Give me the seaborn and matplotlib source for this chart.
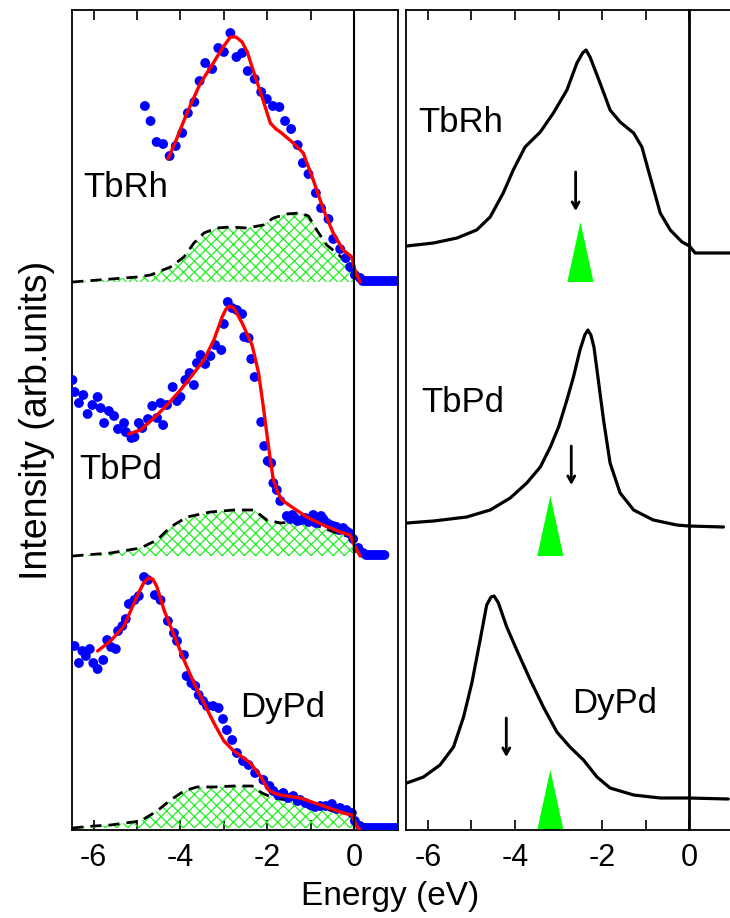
import numpy as np
import pandas as pd
import matplotlib
matplotlib.use("Agg")
from matplotlib import pyplot as plt
import seaborn as sns

# ---- data (energies in eV, intensities in arb. units above each baseline) ----
names = ["TbRh", "TbPd", "DyPd"]
offset_left = [5.48, 2.74, 0.02]
offset_right = [5.77, 3.03, 0.31]

# measured points (blue dots)
tbrh_dot_x = [-4.82, -4.69, -4.55, -4.40, -4.25, -4.11, -3.96, -3.83, -3.68, -3.56,
              -3.43, -3.27, -3.13, -3.00, -2.85, -2.71, -2.58, -2.45, -2.29, -2.14,
              -2.01, -1.87, -1.72, -1.59, -1.45, -1.30, -1.18, -1.05, -0.88, -0.76,
              -0.59, -0.48, -0.32, -0.19, -0.09, 0.02, 0.14,
              0.20, 0.26, 0.32, 0.38, 0.44, 0.50, 0.56, 0.62, 0.68, 0.74, 0.80, 0.86, 0.92, 0.98]
tbrh_dot_y = [1.76, 1.61, 1.40, 1.38, 1.26, 1.36, 1.49, 1.69, 1.80, 2.01,
              2.19, 2.13, 2.34, 2.30, 2.49, 2.25, 2.29, 2.11, 2.03, 1.90,
              1.83, 1.76, 1.75, 1.61, 1.53, 1.37, 1.19, 1.08, 0.89, 0.74,
              0.63, 0.43, 0.33, 0.24, 0.15, 0.07, 0.04,
              0.01, 0.01, 0.01, 0.01, 0.01, 0.01, 0.01, 0.01, 0.01, 0.01, 0.01, 0.01, 0.01, 0.01]

tbpd_dot_x = [-6.49, -6.44, -6.34, -6.24, -6.14, -6.03, -5.91, -5.84, -5.76, -5.65,
              -5.53, -5.44, -5.30, -5.26, -5.13, -5.06, -4.96, -4.88, -4.75, -4.65,
              -4.54, -4.46, -4.40, -4.31, -4.18, -4.08, -4.00, -3.89, -3.79, -3.69,
              -3.62, -3.54, -3.43, -3.31, -3.20, -3.06, -3.00, -2.91, -2.81, -2.70,
              -2.58, -2.53, -2.43, -2.37, -2.29, -2.14, -2.07, -1.99, -1.91, -1.86,
              -1.78, -1.70, -1.55, -1.47, -1.42, -1.36, -1.30, -1.20, -1.12, -1.05,
              -0.98, -0.94, -0.88, -0.82, -0.76, -0.71, -0.62, -0.55, -0.48, -0.40,
              -0.33, -0.25, -0.18, -0.11, -0.02, 0.10, 0.21,
              0.28, 0.34, 0.40, 0.46, 0.52, 0.58, 0.64, 0.70]
tbpd_dot_y = [1.76, 1.64, 1.53, 1.61, 1.42, 1.51, 1.59, 1.48, 1.33, 1.45,
              1.40, 1.27, 1.33, 1.24, 1.18, 1.19, 1.33, 1.28, 1.37, 1.50,
              1.38, 1.53, 1.31, 1.51, 1.69, 1.55, 1.59, 1.76, 1.83, 1.71,
              1.93, 2.01, 1.92, 2.00, 2.11, 2.06, 2.32, 2.54, 2.48, 2.46,
              2.42, 2.19, 2.18, 1.97, 1.79, 1.34, 1.10, 0.95, 0.93, 0.73,
              0.66, 0.55, 0.40, 0.37, 0.41, 0.38, 0.35, 0.36, 0.38, 0.34,
              0.36, 0.41, 0.33, 0.34, 0.40, 0.37, 0.33, 0.31, 0.30, 0.29,
              0.26, 0.28, 0.25, 0.23, 0.17, 0.08, 0.03,
              0.01, 0.01, 0.01, 0.01, 0.01, 0.01, 0.01, 0.01]

dypd_dot_x = [-6.44, -6.34, -6.26, -6.18, -6.09, -6.01, -5.91, -5.78, -5.69, -5.60,
              -5.49, -5.44, -5.34, -5.26, -5.19, -5.06, -4.96, -4.84, -4.75, -4.59,
              -4.46, -4.29, -4.15, -4.08, -3.92, -3.86, -3.75, -3.66, -3.58, -3.48,
              -3.39, -3.25, -3.12, -3.02, -2.93, -2.81, -2.70, -2.56, -2.43, -2.28,
              -2.09, -1.95, -1.86, -1.75, -1.63, -1.52, -1.40, -1.30, -1.24, -1.12,
              -1.01, -0.90, -0.78, -0.65, -0.51, -0.40, -0.32, -0.17, -0.05, 0.02, 0.14,
              0.20, 0.26, 0.32, 0.38, 0.44, 0.50, 0.56, 0.62, 0.68, 0.74, 0.80, 0.86, 0.92, 0.98]
dypd_dot_y = [1.82, 1.65, 1.77, 1.72, 1.79, 1.65, 1.59, 1.68, 1.88, 1.81,
              1.79, 1.97, 2.02, 2.09, 2.24, 2.28, 2.32, 2.51, 2.48, 2.33,
              2.28, 2.07, 1.95, 1.87, 1.73, 1.52, 1.45, 1.42, 1.33, 1.27,
              1.22, 1.22, 1.20, 1.09, 0.98, 0.88, 0.75, 0.67, 0.63, 0.55,
              0.48, 0.42, 0.37, 0.33, 0.35, 0.30, 0.32, 0.27, 0.28, 0.25,
              0.23, 0.21, 0.22, 0.22, 0.24, 0.19, 0.20, 0.18, 0.15, 0.07, 0.02,
              0.0, 0.0, 0.0, 0.0, 0.0, 0.0, 0.0, 0.0, 0.0, 0.0, 0.0, 0.0, 0.0, 0.0]

# calculated spectra (red)
tbrh_fit_x = [-4.29, -4.10, -3.85, -3.54, -3.30, -3.16, -3.00, -2.85, -2.72, -2.58,
              -2.46, -2.35, -2.12, -1.93, -1.80, -1.70, -1.40, -1.17, -0.94, -0.70,
              -0.48, -0.25, -0.05, 0.02, 0.14]
tbrh_fit_y = [1.23, 1.42, 1.69, 1.99, 2.15, 2.25, 2.36, 2.45, 2.45, 2.40,
              2.30, 2.15, 1.85, 1.59, 1.53, 1.50, 1.39, 1.29, 1.02, 0.72,
              0.49, 0.32, 0.25, 0.12, 0.0]
tbpd_fit_x = [-5.19, -4.92, -4.61, -4.31, -4.00, -3.69, -3.46, -3.23, -3.04, -2.95,
              -2.87, -2.77, -2.58, -2.35, -2.20, -2.09, -1.97, -1.86, -1.75, -1.66,
              -1.40, -1.09, -0.71, -0.32, -0.09, -0.02, 0.14]
tbpd_fit_y = [1.22, 1.26, 1.38, 1.51, 1.66, 1.83, 1.96, 2.16, 2.39, 2.47,
              2.50, 2.48, 2.33, 2.11, 1.83, 1.49, 1.09, 0.76, 0.63, 0.56,
              0.48, 0.39, 0.31, 0.24, 0.21, 0.13, 0.0]
dypd_fit_x = [-5.91, -5.61, -5.30, -5.00, -4.85, -4.74, -4.64, -4.55, -4.38, -4.15,
              -3.92, -3.69, -3.46, -3.23, -3.00, -2.77, -2.39, -2.16, -1.97, -1.85,
              -1.70, -1.24, -0.71, -0.25, -0.05, 0.06, 0.14]
dypd_fit_y = [1.77, 1.87, 2.02, 2.32, 2.45, 2.50, 2.49, 2.42, 2.18, 1.93,
              1.68, 1.45, 1.25, 1.05, 0.87, 0.77, 0.65, 0.52, 0.38, 0.35,
              0.33, 0.30, 0.22, 0.15, 0.13, 0.02, -0.02]

# partial contribution (green hatched, dashed outline)
tbrh_part_x = [-6.49, -5.00, -4.69, -4.23, -3.92, -3.69, -3.46, -3.16, -2.85, -2.47,
               -2.09, -1.86, -1.55, -1.24, -1.05, -0.86, -0.63, -0.40, -0.17, -0.02, 0.06]
tbrh_part_y = [0.0, 0.05, 0.07, 0.15, 0.25, 0.39, 0.49, 0.54, 0.55, 0.54,
               0.57, 0.64, 0.68, 0.69, 0.66, 0.52, 0.37, 0.29, 0.20, 0.12, 0.02]
tbpd_part_x = [-6.49, -5.61, -4.92, -4.54, -4.23, -3.85, -3.31, -2.77, -2.31, -2.01,
               -1.70, -1.40, -1.01, -0.71, -0.40, -0.09, 0.02]
tbpd_part_y = [0.0, 0.03, 0.08, 0.16, 0.29, 0.39, 0.44, 0.46, 0.46, 0.36,
               0.33, 0.34, 0.33, 0.28, 0.23, 0.19, 0.03]
dypd_part_x = [-6.49, -5.99, -5.61, -4.92, -4.54, -4.23, -3.92, -3.62, -3.23, -2.77,
               -2.35, -2.12, -1.86, -1.40, -0.94, -0.48, -0.09, 0.06]
dypd_part_y = [0.0, 0.02, 0.03, 0.07, 0.17, 0.28, 0.37, 0.41, 0.41, 0.42,
               0.42, 0.35, 0.30, 0.27, 0.22, 0.17, 0.14, 0.02]

# right panel spectra (black)
tbrh_r_x = [-6.48, -5.87, -5.33, -4.88, -4.57, -4.27, -4.04, -3.77, -3.42, -3.12,
            -2.81, -2.58, -2.45, -2.37, -2.28, -2.05, -1.82, -1.59, -1.28, -1.09,
            -0.90, -0.67, -0.44, -0.17, 0.0, 0.13, 0.95]
tbrh_r_y = [0.07, 0.10, 0.15, 0.23, 0.36, 0.60, 0.83, 1.06, 1.21, 1.40,
            1.63, 1.90, 2.00, 2.03, 1.96, 1.70, 1.43, 1.31, 1.20, 1.06,
            0.76, 0.40, 0.23, 0.11, 0.07, 0.0, 0.0]
tbpd_r_x = [-6.48, -5.87, -5.11, -4.57, -4.11, -3.73, -3.42, -3.19, -3.00, -2.81,
            -2.66, -2.51, -2.40, -2.33, -2.26, -2.19, -2.09, -1.97, -1.82, -1.59,
            -1.28, -0.83, -0.29, -0.02, 0.78]
tbpd_r_y = [0.04, 0.06, 0.10, 0.17, 0.29, 0.44, 0.60, 0.80, 1.00, 1.27,
            1.50, 1.77, 1.92, 1.97, 1.92, 1.80, 1.47, 1.07, 0.64, 0.34,
            0.17, 0.07, 0.02, 0.01, 0.0]
dypd_r_x = [-6.48, -6.10, -5.72, -5.41, -5.18, -4.99, -4.80, -4.65, -4.55, -4.48,
            -4.38, -4.19, -3.96, -3.65, -3.35, -3.04, -2.74, -2.43, -2.12, -1.82,
            -1.28, -0.67, -0.02, 0.89]
dypd_r_y = [0.16, 0.22, 0.34, 0.52, 0.82, 1.16, 1.59, 1.94, 2.02, 2.03,
            1.96, 1.72, 1.49, 1.19, 0.92, 0.67, 0.52, 0.39, 0.22, 0.11,
            0.04, 0.01, 0.01, 0.0]

# markers in the right panel
triangle_E = [-2.50, -3.19, -3.19]
arrow_E = [-2.61, -2.71, -4.20]

# label positions (eV, height)
label_left = [(-6.25, 6.42), (-6.34, 3.60), (-2.62, 1.23)]
label_right = [(-6.22, 7.07), (-6.14, 4.27), (-2.70, 1.27)]

dots = [(tbrh_dot_x, tbrh_dot_y), (tbpd_dot_x, tbpd_dot_y), (dypd_dot_x, dypd_dot_y)]
fits = [(tbrh_fit_x, tbrh_fit_y), (tbpd_fit_x, tbpd_fit_y), (dypd_fit_x, dypd_fit_y)]
parts = [(tbrh_part_x, tbrh_part_y), (tbpd_part_x, tbpd_part_y), (dypd_part_x, dypd_part_y)]
rights = [(tbrh_r_x, tbrh_r_y), (tbpd_r_x, tbpd_r_y), (dypd_r_x, dypd_r_y)]

# ---- style ----
sns.set_style("ticks", {"axes.edgecolor": "black", "xtick.color": "black",
                        "ytick.color": "black", "text.color": "black"})
plt.rcParams['font.family'] = ['Liberation Sans', 'DejaVu Sans']
plt.rcParams['hatch.linewidth'] = 0.9
plt.rcParams['axes.linewidth'] = 1.3
plt.rcParams['lines.solid_joinstyle'] = 'round'

fig = plt.figure(figsize=(7.3, 9.18), dpi=100)
axL = fig.add_axes([72 / 730, 88 / 918, 326.3 / 730, 820 / 918])
axR = fig.add_axes([406 / 730, 88 / 918, 324 / 730, 820 / 918])

green = "#22ee22"

# left panel
for i, name in enumerate(names):
    off = offset_left[i]
    px, py = np.array(parts[i][0]), np.array(parts[i][1]) + off
    axL.fill_between(px, off, py, facecolor="none", edgecolor=green,
                     hatch="xxx", linewidth=0, zorder=1)
    sns.lineplot(x=px, y=py, ax=axL, color="black", lw=2, linestyle=(0, (4, 2.5)),
                 sort=False, estimator=None, zorder=2)
    dx, dy = np.array(dots[i][0]), np.array(dots[i][1]) + off
    sns.scatterplot(x=dx, y=dy, ax=axL, color="#0000ff", s=50, edgecolor="none",
                    linewidth=0, zorder=3)
    fx, fy = np.array(fits[i][0]), np.array(fits[i][1]) + off
    sns.lineplot(x=fx, y=fy, ax=axL, color="#ff0000", lw=2.4,
                 sort=False, estimator=None, zorder=4)
    axL.text(label_left[i][0], label_left[i][1], name, fontsize=25,
             ha="left", va="center")

axL.axvline(0, color="black", lw=1.5, zorder=5)

# right panel
for i, name in enumerate(names):
    off = offset_right[i]
    rx, ry = np.array(rights[i][0]), np.array(rights[i][1]) + off
    sns.lineplot(x=rx, y=ry, ax=axR, color="black", lw=2.3,
                 sort=False, estimator=None, zorder=3)
    base = offset_left[i] if i < 2 else 0.0
    e = triangle_E[i]
    axR.fill([e - 0.3, e, e + 0.3], [base, base + 0.6, base],
             color="#00ff00", lw=0, zorder=2)
    tip = offset_left[i] + 0.71
    axR.annotate("", xy=(arrow_E[i], tip), xytext=(arrow_E[i], tip + 0.39),
                 arrowprops=dict(arrowstyle="->,head_length=0.45,head_width=0.25",
                                 color="black", lw=2, shrinkA=0, shrinkB=0))
    axR.text(label_right[i][0], label_right[i][1], name, fontsize=25,
             ha="left", va="center")

axR.axvline(0, color="black", lw=2, zorder=5)
axR.spines["right"].set_visible(False)

for ax, right in [(axL, 1.02), (axR, 0.93)]:
    ax.set_xlim(-6.5, right)
    ax.set_ylim(0, 8.2)
    ax.set_xticks([-6, -4, -2, 0])
    ax.set_xticks([-5, -3, -1], minor=True)
    ax.set_xticklabels(["-6", "-4", "-2", "0"])
    ax.set_yticks([])
    ax.tick_params(axis="x", which="both", direction="in", top=True, bottom=True,
                   length=7, width=1.2, labelsize=22, pad=9)
    ax.set_xlabel("")
    ax.set_ylabel("")

fig.text(390 / 730, 1 - 897 / 918, "Energy (eV)", fontsize=24, ha="center", va="center")
fig.text(37 / 730, 1 - 420 / 918, "Intensity (arb.units)", fontsize=27,
         rotation=90, ha="center", va="center")

plt.savefig("out.png", dpi=100)
